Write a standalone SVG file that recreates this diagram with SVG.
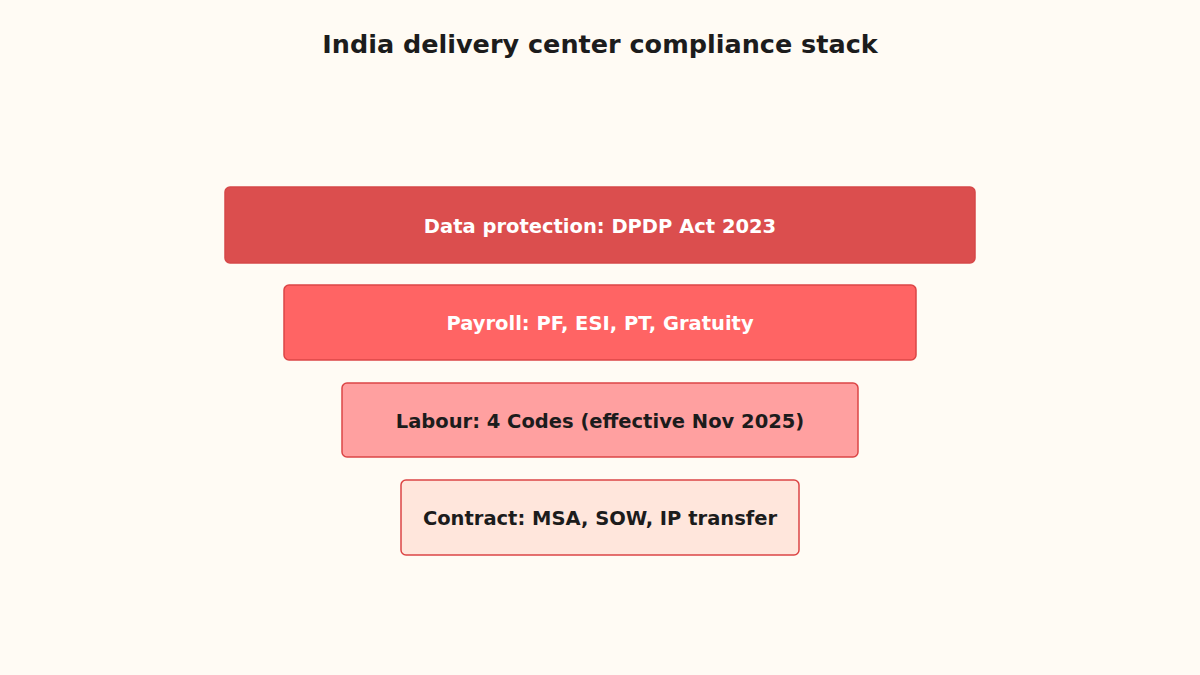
<svg xmlns="http://www.w3.org/2000/svg" width="1200" height="675" viewBox="0 0 1200 675">
<style>
.t{font-family:"DejaVu Sans",sans-serif;font-weight:bold;text-anchor:middle}
.title{font-size:25.5px;fill:#1c1c1c}
.lbl{font-size:19.5px;dominant-baseline:central}
.box{stroke-width:1.5}
</style>
<rect width="1200" height="675" fill="#fffbf4"/>
<text class="t title" x="600" y="53">India delivery center compliance stack</text>
<g id="layer-data">
<rect class="box" x="225" y="187" width="750" height="76" rx="5" fill="#db4e4e" stroke="#d64848"/>
<text class="t lbl" x="600" y="226" fill="#ffffff">Data protection: DPDP Act 2023</text>
</g>
<g id="layer-payroll">
<rect class="box" x="284" y="285" width="632" height="75" rx="5" fill="#ff6464" stroke="#dc4545"/>
<text class="t lbl" x="600" y="323" fill="#ffffff">Payroll: PF, ESI, PT, Gratuity</text>
</g>
<g id="layer-labour">
<rect class="box" x="342" y="383" width="516" height="74" rx="5" fill="#ffa0a0" stroke="#dc4545"/>
<text class="t lbl" x="600" y="421" fill="#1c1c1c">Labour: 4 Codes (effective Nov 2025)</text>
</g>
<g id="layer-contract">
<rect class="box" x="401" y="480" width="398" height="75" rx="5" fill="#ffe6dc" stroke="#dc4545"/>
<text class="t lbl" x="600" y="518" fill="#1c1c1c">Contract: MSA, SOW, IP transfer</text>
</g>
<g id="connectors"></g>
</svg>
